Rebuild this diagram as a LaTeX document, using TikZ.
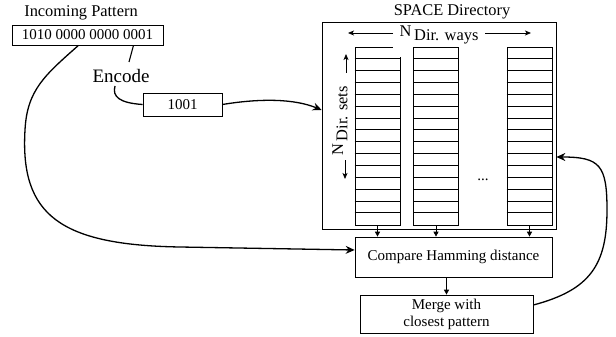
\documentclass[tikz,border=0pt]{standalone}
\usepackage{fontspec}
\setmainfont{Liberation Serif}
\usetikzlibrary{arrows.meta}
\begin{document}
\begin{tikzpicture}[x=1pt,y=-1pt,
  box/.style={draw,line width=0.7pt,inner sep=0pt,font=\fontsize{15}{17}\selectfont,align=center},
  lbl/.style={inner sep=0pt,font=\fontsize{16.4}{18}\selectfont},
  curve/.style={line width=1.3pt,-{Stealth[length=9pt,width=8pt,inset=3pt]}},
  small/.style={line width=0.8pt,-{Triangle[length=5pt,width=5pt]}},
  dimarrow/.style={line width=0.8pt,-{Stealth[length=6pt,width=5pt,inset=1.5pt]}},
  colbox/.style={draw,line width=0.7pt,minimum width=45pt,minimum height=178pt,inner sep=0pt}]
\useasboundingbox (0,0) rectangle (616,337);
% left part
\node[lbl] (intitle) at (81,13) {Incoming Pattern};
\node[box,minimum width=151pt,minimum height=20pt] (pat) at (87.5,35) {1010 0000 0000 0001};
\node[lbl,font=\fontsize{19}{21}\selectfont] (enc) at (121,76) {Encode};
\coordinate (encTop) at (129,62);
\node[box,minimum width=79pt,minimum height=23pt] (code) at (182.5,104.5) {1001};
% directory
\node[lbl] (dirtitle) at (452,12) {SPACE Directory};
\node[draw,line width=0.7pt,minimum width=234pt,minimum height=207pt,inner sep=0pt] (dir) at (439,125.5) {};
\node[colbox] (c1) at (377.5,136) {};
\node[colbox] (c2) at (436,136) {};
\node[colbox] (c3) at (529.5,136) {};
\foreach \c in {c1,c2,c3}{
  \foreach \i in {1,...,14}{
    \draw[line width=0.7pt] ([yshift=-\i*11.867pt]\c.north west) -- ([yshift=-\i*11.867pt]\c.north east);
  }
}
\fill[white] (393,44) rectangle (402,57.5);
\node[font=\fontsize{15}{17}\selectfont] (dots) at (483,180) {...};
% ways label
\node[lbl,inner sep=1pt] (ways) at (439,35) {N\,\raisebox{-0.55ex}{Dir. ways}};
\coordinate (wl) at (348,33);
\coordinate (wr) at (531,33);
\draw[dimarrow] (393,33) -- (wl);
\draw[dimarrow] (485,33) -- (wr);
% sets label
\node[lbl,rotate=90,inner sep=1pt] (sets) at (340,121) {N\,\raisebox{-0.55ex}{Dir. sets}};
\coordinate (su) at (346,54);
\coordinate (sd) at (345,179);
\draw[dimarrow] (346,73) -- (su);
\draw[dimarrow] (345,160) -- (sd);
% lower boxes
\node[box,minimum width=197pt,minimum height=40pt] (cmp) at (453.5,257) {Compare Hamming distance};
\node[box,minimum width=173pt,minimum height=38pt] (merge) at (446.5,314) {Merge with\\closest pattern};
\draw[small] (c1.south) -- (c1.south |- cmp.north);
\draw[small] (c2.south) -- (c2.south |- cmp.north);
\draw[small] (c3.south) -- (c3.south |- cmp.north);
\draw[small] (cmp.south -| 446.5,0) -- (merge.north);
% connectors
\draw[line width=1.1pt] ([xshift=46pt]pat.south) -- (encTop);
\draw[line width=1.3pt] (115,86) .. controls (112,97) and (120,103) .. (code.west);
\draw[curve] (code.east) .. controls (262,98) and (295,99) .. ([yshift=15.5pt]dir.west);
\draw[curve] ([xshift=-9pt]pat.south) .. controls (45,75) and (27,90) .. (25,130)
  .. controls (20,215) and (60,245) .. (180,247) -- ([yshift=7pt]cmp.west);
\draw[curve] ([yshift=9pt]merge.east) .. controls (590,290) and (607,265) .. (607,210)
  .. controls (607,165) and (600,157) .. ([yshift=-31.5pt]dir.east);
\end{tikzpicture}
\end{document}
